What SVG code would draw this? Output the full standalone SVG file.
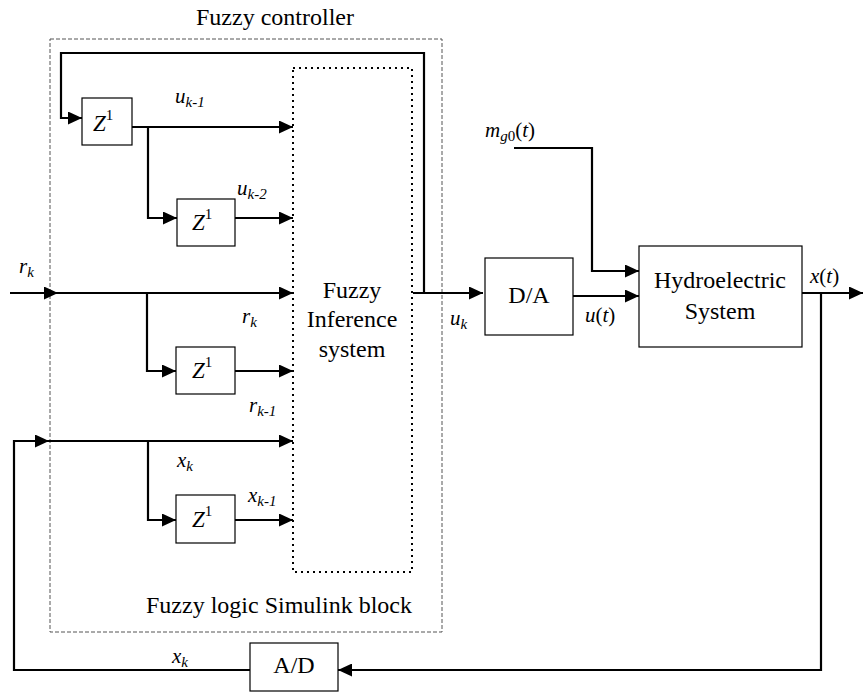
<svg xmlns="http://www.w3.org/2000/svg" width="863" height="693" viewBox="0 0 863 693" font-family="'Liberation Serif', 'Times New Roman', 'DejaVu Serif', serif">
<style>
text, tspan{font-family:"Liberation Serif","Times New Roman","DejaVu Serif",serif;fill:#000}
.t{font-size:24px}
.v{font-size:21px;font-style:italic}
.s{font-size:15px;font-style:italic}
.n{font-size:15px;font-style:normal}
.box{fill:#fff;stroke:#000;stroke-width:1.2}
.w{fill:none;stroke:#000;stroke-width:2.2}
</style>
<defs>
<marker id="ar" markerUnits="userSpaceOnUse" markerWidth="14" markerHeight="13" refX="14" refY="6.5" orient="auto">
<path d="M0,0 L14,6.5 L0,13 z" fill="#000"/>
</marker>
</defs>
<rect width="863" height="693" fill="#fff"/>
<g id="fuzzy-controller">
<rect x="50" y="39" width="392" height="593" fill="none" stroke="#555" stroke-width="1" stroke-dasharray="4 2"/>
<text class="t" x="275" y="25" text-anchor="middle">Fuzzy controller</text>
<text class="t" x="279" y="613" text-anchor="middle">Fuzzy logic Simulink block</text>
</g>
<g id="fis">
<rect x="293" y="68" width="119" height="504" fill="none" stroke="#000" stroke-width="2" stroke-dasharray="2 4"/>
<text class="t" x="352" y="298" text-anchor="middle">Fuzzy</text>
<text class="t" x="352" y="327" text-anchor="middle">Inference</text>
<text class="t" x="352" y="357" text-anchor="middle">system</text>
</g>
<g id="connectors">
<path class="w" d="M424,293 V53 H61 V118 H82" marker-end="url(#ar)"/>
<path class="w" d="M413,293 H483" marker-end="url(#ar)"/>
<path class="w" d="M132,127 H293" marker-end="url(#ar)"/>
<path class="w" d="M148,127 V218 H177" marker-end="url(#ar)"/>
<path class="w" d="M235,218 H293" marker-end="url(#ar)"/>
<path class="w" d="M10,293 H58" marker-end="url(#ar)"/>
<path class="w" d="M58,293 H293" marker-end="url(#ar)"/>
<path class="w" d="M147,293 V371 H176" marker-end="url(#ar)"/>
<path class="w" d="M235,371 H293" marker-end="url(#ar)"/>
<path class="w" d="M250,670 H14 V441 H49" marker-end="url(#ar)"/>
<path class="w" d="M49,441 H293" marker-end="url(#ar)"/>
<path class="w" d="M148,441 V520 H176" marker-end="url(#ar)"/>
<path class="w" d="M235,520 H293" marker-end="url(#ar)"/>
<path class="w" d="M573,296 H639" marker-end="url(#ar)"/>
<path class="w" d="M514,148 H592 V271 H639" marker-end="url(#ar)"/>
<path class="w" d="M802,293 H863" marker-end="url(#ar)"/>
<path class="w" d="M821,293 V670 H338" marker-end="url(#ar)"/>
</g>
<g id="z1">
<rect class="box" x="82" y="98" width="50" height="47"/>
<text x="93" y="131"><tspan class="v" style="font-size:23px">Z</tspan><tspan class="n" dy="-11">1</tspan></text>
</g>
<g id="z2">
<rect class="box" x="177" y="199" width="58" height="47"/>
<text x="192" y="230"><tspan class="v" style="font-size:23px">Z</tspan><tspan class="n" dy="-11">1</tspan></text>
</g>
<g id="z3">
<rect class="box" x="176" y="347" width="59" height="47"/>
<text x="192" y="378"><tspan class="v" style="font-size:23px">Z</tspan><tspan class="n" dy="-11">1</tspan></text>
</g>
<g id="z4">
<rect class="box" x="176" y="495" width="59" height="48"/>
<text x="192" y="527"><tspan class="v" style="font-size:23px">Z</tspan><tspan class="n" dy="-11">1</tspan></text>
</g>
<g id="da">
<rect class="box" x="485" y="258" width="88" height="77"/>
<text class="t" x="529" y="303" text-anchor="middle">D/A</text>
</g>
<g id="hydro">
<rect class="box" x="639" y="246" width="163" height="101"/>
<text class="t" x="720" y="288" text-anchor="middle">Hydroelectric</text>
<text class="t" x="720" y="319" text-anchor="middle">System</text>
</g>
<g id="ad">
<rect class="box" x="250" y="643" width="88" height="48"/>
<text class="t" x="294" y="673" text-anchor="middle">A/D</text>
</g>
<g id="labels">
<text x="175" y="103"><tspan class="v">u</tspan><tspan class="s" dy="4">k-1</tspan></text>
<text x="237" y="195"><tspan class="v">u</tspan><tspan class="s" dy="4">k-2</tspan></text>
<text x="19" y="273"><tspan class="v">r</tspan><tspan class="s" dy="4">k</tspan></text>
<text x="242" y="323"><tspan class="v">r</tspan><tspan class="s" dy="4">k</tspan></text>
<text x="249" y="412"><tspan class="v">r</tspan><tspan class="s" dy="4">k-1</tspan></text>
<text x="177" y="467"><tspan class="v">x</tspan><tspan class="s" dy="4">k</tspan></text>
<text x="248" y="502"><tspan class="v">x</tspan><tspan class="s" dy="4">k-1</tspan></text>
<text x="172" y="663"><tspan class="v">x</tspan><tspan class="s" dy="4">k</tspan></text>
<text x="450" y="325"><tspan class="v">u</tspan><tspan class="s" dy="4">k</tspan></text>
<text x="585" y="322"><tspan class="v">u</tspan><tspan class="v" style="font-style:normal">(</tspan><tspan class="v">t</tspan><tspan class="v" style="font-style:normal">)</tspan></text>
<text x="485" y="137"><tspan class="v">m</tspan><tspan class="s" dy="4">g</tspan><tspan class="n">0</tspan><tspan class="v" style="font-style:normal" dy="-4">(</tspan><tspan class="v">t</tspan><tspan class="v" style="font-style:normal">)</tspan></text>
<text x="810" y="283"><tspan class="v">x</tspan><tspan class="v" style="font-style:normal">(</tspan><tspan class="v">t</tspan><tspan class="v" style="font-style:normal">)</tspan></text>
</g>
</svg>
